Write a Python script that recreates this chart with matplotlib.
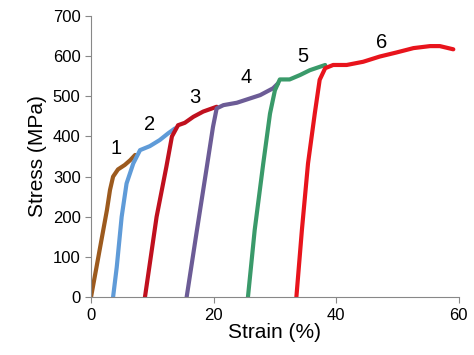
import matplotlib
matplotlib.use('Agg')
import matplotlib.pyplot as plt

plt.rcParams['font.family'] = ['Liberation Sans', 'DejaVu Sans']

# strain (%) / stress (MPa) for each loading step
strain_1 = [0, 0.9, 1.7, 2.6, 3.1, 3.6, 4.4, 5.5, 6.4, 7.2]
stress_1 = [0, 75, 142, 217, 267, 300, 318, 329, 341, 354]

strain_2 = [3.6, 4.2, 5.0, 5.8, 6.9, 8.0, 9.6, 11.2, 12.6, 13.7]
stress_2 = [0, 75, 200, 283, 333, 366, 376, 391, 408, 420]

strain_3 = [8.8, 10.7, 12.3, 13.2, 14.2, 15.3, 16.7, 18.3, 20.5]
stress_3 = [0, 200, 325, 400, 428, 434, 449, 462, 474]

strain_4 = [15.6, 17.2, 18.9, 19.9, 20.5, 21.6, 23.8, 25.4, 27.6, 29.7, 30.5]
stress_4 = [0, 159, 325, 424, 470, 478, 484, 492, 503, 520, 532]

strain_5 = [25.6, 26.7, 28.1, 29.2, 30.0, 30.8, 32.4, 34.1, 35.7, 38.2]
stress_5 = [0, 167, 333, 457, 515, 542, 542, 553, 565, 578]

strain_6 = [33.5, 34.4, 35.4, 36.5, 37.3, 38.2, 39.5, 41.7, 44.4, 47.1,
            49.8, 52.6, 55.3, 56.9, 59.1]
stress_6 = [0, 167, 333, 457, 541, 570, 578, 578, 586, 599,
            609, 620, 625, 625, 617]

curves = [(strain_1, stress_1), (strain_2, stress_2), (strain_3, stress_3),
          (strain_4, stress_4), (strain_5, stress_5), (strain_6, stress_6)]
colors = ['#9C5A1E', '#5F9BD8', '#C0101E', '#6C5C96', '#3A9A6A', '#E8141C']

labels = ['1', '2', '3', '4', '5', '6']
label_x = [4.1, 9.6, 17.0, 25.3, 34.6, 47.4]
label_y = [371, 431, 496, 546, 598, 633]

fig = plt.figure(figsize=(4.74, 3.55), dpi=100)
ax = fig.add_axes([0.192, 0.163, 0.776, 0.792])

for (sx, sy), c in zip(curves, colors):
    ax.plot(sx, sy, color=c, linewidth=3, solid_capstyle='round')

for t, lx, ly in zip(labels, label_x, label_y):
    ax.text(lx, ly, t, fontsize=14.5, ha='center', va='center')

ax.set_xlim(0, 60)
ax.set_ylim(0, 700)
ax.set_xticks([0, 20, 40, 60])
ax.set_yticks(range(0, 701, 100))

for s in ['top', 'right']:
    ax.spines[s].set_visible(False)
for s in ['left', 'bottom']:
    ax.spines[s].set_color('#888888')
ax.tick_params(colors='#888888', labelcolor='black', labelsize=12, length=4)

ax.set_xlabel('Strain (%)', fontsize=15, labelpad=0)
ax.set_ylabel('Stress (MPa)', fontsize=15, labelpad=4)

fig.savefig('out.png', dpi=100)
